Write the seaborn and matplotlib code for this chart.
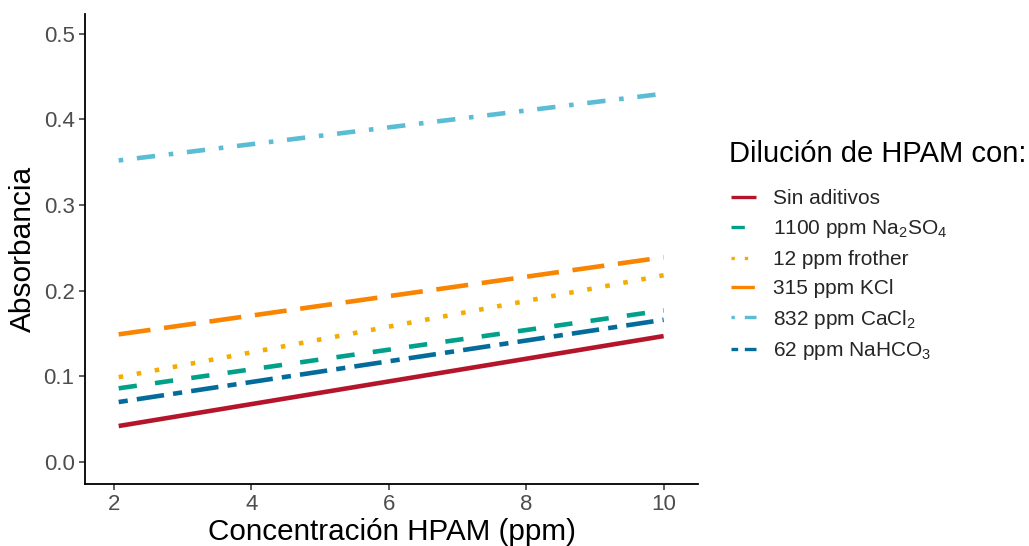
import matplotlib
matplotlib.use("Agg")
import matplotlib.pyplot as plt
from matplotlib.lines import Line2D
import seaborn as sns
import pandas as pd

# Fitted absorbance lines for each HPAM dilution (start and end of the fit)
conc_range = [2.07, 10.0]
series_names = [
    "Sin aditivos",
    "1100 ppm Na$_2$SO$_4$",
    "12 ppm frother",
    "315 ppm KCl",
    "832 ppm CaCl$_2$",
    "62 ppm NaHCO$_3$",
]
sin_aditivos = [0.042, 0.147]
na2so4 = [0.086, 0.177]
frother = [0.099, 0.218]
kcl = [0.149, 0.239]
cacl2 = [0.352, 0.430]
nahco3 = [0.070, 0.166]

x_ticks = [2, 4, 6, 8, 10]
y_ticks = [0.0, 0.1, 0.2, 0.3, 0.4, 0.5]

colors = ["#B5152B", "#00A08A", "#F2AD00", "#F98400", "#5BBCD6", "#046C9A"]
# R-style line types, expressed in units of line width
dash_patterns = [
    "",            # solid
    (4, 4),        # dashed
    (1, 3),        # dotted
    (7, 3),        # longdash
    (1, 3, 4, 3),  # dotdash
    (2, 2, 6, 2),  # twodash
]

values = [sin_aditivos, na2so4, frother, kcl, cacl2, nahco3]
frames = []
for name, vals in zip(series_names, values):
    frames.append(pd.DataFrame({"conc": conc_range, "abs": vals, "serie": name}))
df = pd.concat(frames, ignore_index=True)

sns.set_theme(style="white")
plt.rcParams["font.family"] = ["Liberation Sans", "DejaVu Sans"]
plt.rcParams["mathtext.default"] = "regular"

fig = plt.figure(figsize=(10.29, 5.46), dpi=100)
ax = fig.add_axes([85 / 1029, 62 / 546, 613 / 1029, 470 / 546])

lw = 3.3
sns.lineplot(
    data=df, x="conc", y="abs", hue="serie", style="serie",
    hue_order=series_names, style_order=series_names,
    palette=dict(zip(series_names, colors)),
    dashes=dict(zip(series_names, dash_patterns)),
    linewidth=lw, legend=False, ax=ax,
)
for ln in ax.lines:
    ln.set_dash_capstyle("butt")
    ln.set_solid_capstyle("butt")

ax.set_xlim(1.58, 10.5)
ax.set_ylim(-0.0257, 0.523)
ax.set_xticks(x_ticks)
ax.set_xticklabels([str(t) for t in x_ticks])
ax.set_yticks(y_ticks)
ax.set_yticklabels([f"{t:.1f}" for t in y_ticks])

for side in ["top", "right"]:
    ax.spines[side].set_visible(False)
for side in ["left", "bottom"]:
    ax.spines[side].set_color("black")
    ax.spines[side].set_linewidth(1.3)

ax.tick_params(axis="both", which="major", direction="out", length=4.5, width=1.1,
               color="#333333", labelsize=16, labelcolor="#4D4D4D", pad=3,
               bottom=True, left=True)

ax.set_xlabel("Concentración HPAM (ppm)", fontsize=21.3, color="black", labelpad=2)
ax.set_ylabel("Absorbancia", fontsize=21.5, color="black", labelpad=4.5)

handles = []
for c, d in zip(colors, dash_patterns):
    if d == "":
        h = Line2D([0], [0], color=c, lw=2.4, solid_capstyle="butt")
    else:
        h = Line2D([0], [0], color=c, lw=2.4, dashes=d, dash_capstyle="butt")
    handles.append(h)

fig.text(729 / 1029, 1 - 162 / 546, "Dilución de HPAM con:", fontsize=21,
         color="black", ha="left", va="baseline")

leg = fig.legend(
    handles, series_names,
    loc="upper left", bbox_to_anchor=(731 / 1029, 1 - 189.5 / 546),
    frameon=False, fontsize=15,
    handlelength=1.2, handletextpad=0.82, labelspacing=0.47,
    borderaxespad=0, borderpad=0,
)

fig.savefig("out.png", dpi=100)
